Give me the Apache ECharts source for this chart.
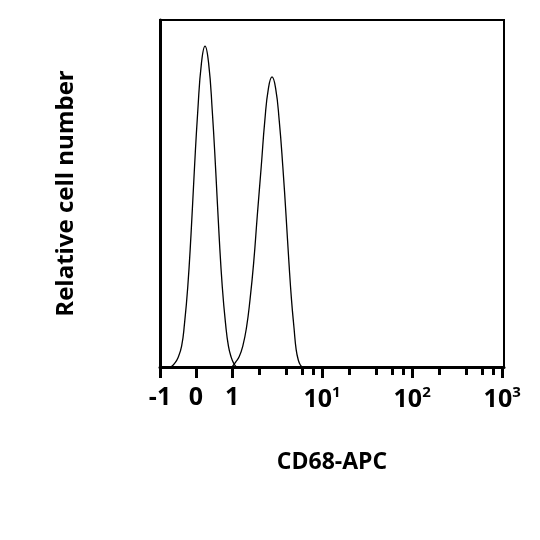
<!DOCTYPE html>
<html><head><meta charset="utf-8">
<script src="https://cdn.jsdelivr.net/npm/echarts@6/dist/echarts.min.js"></script>
<style>html,body{margin:0;padding:0;background:#fff}#c{width:540px;height:540px}</style>
</head><body><div id="c"></div>
<script>
// x in display units: label -1 ->0, 0 ->1, 1 ->2, then 2.5 units per decade
const majorTicks = [0, 1, 2, 4.5, 7, 9.5];
const majorLabels = ['-1', '0', '1', '10{s|1}', '10{s|2}', '10{s|3}'];
const minorTicks = [2.75, 3.5, 3.95, 4.26, 5.25, 6.0, 6.45, 6.76, 7.75, 8.5, 8.95, 9.26];
const peak1 = [[0.3,0],[0.4,1],[0.5,2.7],[0.6,6],[0.68,12.5],[0.77,23],[0.86,38],[0.95,56],[1.05,74],[1.15,87.5],[1.25,92.5],[1.35,87.5],[1.45,74],[1.55,56],[1.64,38],[1.73,23],[1.82,12.5],[1.9,6],[1.98,2.7],[2.05,1],[2.12,0]];
const peak2 = [[2.0,0],[2.1,1.4],[2.2,3],[2.3,6.1],[2.4,11.3],[2.5,19.5],[2.6,30],[2.7,43.5],[2.81,57.7],[2.91,71],[3.01,80.3],[3.11,83.6],[3.21,80.3],[3.31,71],[3.41,57.7],[3.5,43.5],[3.58,30],[3.65,19.5],[3.72,11.3],[3.78,5],[3.84,2],[3.9,0.5],[3.96,0]];

const font = 'Open Sans';
const chart = echarts.init(document.getElementById('c'));
chart.setOption({
  animation: false,
  grid: {left: 160, top: 20, width: 344, height: 347, show: true, borderColor: '#000', borderWidth: 2},
  xAxis: [{
    type: 'value', min: 0, max: 9.55,
    axisLine: {onZero: false, lineStyle: {color: '#000', width: 3}},
    splitLine: {show: false},
    axisTick: {customValues: majorTicks, length: 11, lineStyle: {color: '#000', width: 3}},
    axisLabel: {customValues: majorTicks, margin: 18, color: '#000', fontFamily: font, fontWeight: 'bold', fontSize: 25,
      formatter: v => majorLabels[majorTicks.indexOf(v)] ?? '',
      rich: {s: {fontSize: 15, fontWeight: 'bold', fontFamily: font, verticalAlign: 'top', padding: [0,0,14,0]}}},
    name: 'CD68-APC', nameLocation: 'middle', nameGap: 84,
    nameTextStyle: {color: '#000', fontFamily: font, fontWeight: 'bold', fontSize: 23}
  }, {
    type: 'value', min: 0, max: 9.55, position: 'bottom',
    axisLine: {show: false}, splitLine: {show: false}, axisLabel: {show: false},
    axisTick: {customValues: minorTicks, length: 8, lineStyle: {color: '#000', width: 3}}
  }],
  yAxis: {
    type: 'value', min: 0, max: 100,
    axisLine: {show: true, lineStyle: {color: '#000', width: 3}},
    axisTick: {show: false}, axisLabel: {show: false}, splitLine: {show: false},
    name: 'Relative cell number', nameLocation: 'middle', nameGap: 82,
    nameTextStyle: {color: '#000', fontFamily: font, fontWeight: 'bold', fontSize: 24}
  },
  series: [peak1, peak2].map(d => ({
    type: 'line', data: d, smooth: true, showSymbol: false,
    lineStyle: {color: '#000', width: 1.3}
  }))
});
</script></body></html>
